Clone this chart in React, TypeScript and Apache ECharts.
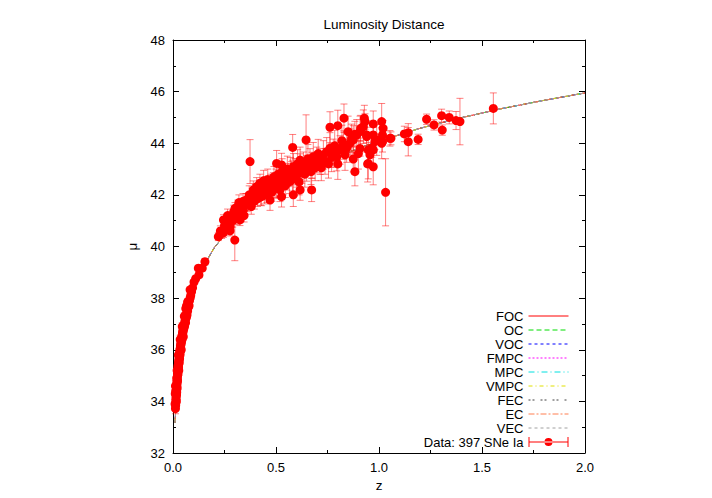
import React, { useEffect, useRef } from "react";
import * as echarts from "echarts";

// Model curve (shared by all nine model fits, which overlap in the picture)
const modelZ = [0.01, 0.02, 0.03, 0.05, 0.07, 0.1, 0.15, 0.2, 0.3, 0.4, 0.5, 0.6, 0.7, 0.8, 0.9, 1.0, 1.2, 1.4, 1.6, 1.8, 2.0];
const modelMu = [33.17, 34.69, 35.59, 36.73, 37.5, 38.31, 39.26, 39.95, 40.94, 41.67, 42.24, 42.72, 43.12, 43.48, 43.8, 44.08, 44.58, 44.99, 45.35, 45.66, 45.95];

const modelNames = ["FOC", "OC", "VOC", "FMPC", "MPC", "VMPC", "FEC", "EC", "VEC"];
const dataName = "Data: 397 SNe Ia";

// Supernovae: [z, mu, error]
const supernovae: [number, number, number][] = [
  [0.012, 33.72, 0.2], [0.013, 33.85, 0.18], [0.014, 34.05, 0.2], [0.014, 33.95, 0.15], [0.015, 34.2, 0.2],
  [0.015, 34.1, 0.17], [0.016, 34.3, 0.2], [0.016, 34.0, 0.16], [0.017, 34.45, 0.18], [0.017, 34.25, 0.2],
  [0.018, 34.55, 0.16], [0.018, 34.35, 0.2], [0.019, 34.6, 0.18], [0.019, 34.75, 0.15], [0.02, 34.7, 0.2],
  [0.02, 34.5, 0.16], [0.021, 34.85, 0.18], [0.021, 34.95, 0.15], [0.022, 35.0, 0.17], [0.022, 34.8, 0.2],
  [0.023, 35.1, 0.16], [0.023, 35.2, 0.18], [0.024, 35.05, 0.15], [0.024, 35.3, 0.17], [0.025, 35.25, 0.18],
  [0.025, 35.4, 0.16], [0.026, 35.35, 0.15], [0.027, 35.5, 0.17], [0.027, 35.3, 0.16], [0.028, 35.6, 0.18],
  [0.028, 35.45, 0.15], [0.029, 35.55, 0.16], [0.03, 35.7, 0.15], [0.03, 35.5, 0.17], [0.031, 35.75, 0.14],
  [0.032, 35.85, 0.16], [0.032, 35.65, 0.15], [0.033, 35.9, 0.14], [0.034, 35.8, 0.16], [0.034, 36.0, 0.15],
  [0.035, 36.05, 0.14], [0.036, 35.95, 0.15], [0.036, 36.15, 0.14], [0.037, 36.1, 0.15], [0.038, 36.25, 0.14],
  [0.039, 36.2, 0.13], [0.04, 36.35, 0.14], [0.041, 36.3, 0.15], [0.042, 36.45, 0.13], [0.043, 36.4, 0.14],
  [0.044, 36.55, 0.13], [0.045, 36.5, 0.14], [0.046, 36.65, 0.13], [0.047, 36.6, 0.12], [0.048, 36.75, 0.13],
  [0.049, 36.7, 0.12], [0.05, 36.85, 0.13], [0.052, 36.8, 0.12], [0.053, 36.95, 0.12], [0.055, 37.0, 0.12],
  [0.056, 36.9, 0.11], [0.058, 37.1, 0.12], [0.06, 37.2, 0.11], [0.061, 37.05, 0.12], [0.063, 37.3, 0.11],
  [0.065, 37.25, 0.12], [0.066, 37.4, 0.11], [0.068, 37.35, 0.11], [0.07, 37.55, 0.12], [0.071, 37.5, 0.11],
  [0.074, 37.65, 0.11], [0.076, 37.75, 0.1], [0.078, 37.7, 0.11], [0.08, 37.9, 0.1], [0.083, 38.0, 0.11],
  [0.086, 38.1, 0.1], [0.09, 38.25, 0.1], [0.095, 38.4, 0.1], [0.102, 38.62, 0.1], [0.11, 38.75, 0.1],
  [0.01, 33.9, 0.25], [0.011, 34.3, 0.22], [0.012, 34.6, 0.2], [0.013, 34.4, 0.22], [0.018, 34.9, 0.2],
  [0.02, 35.2, 0.18], [0.026, 35.8, 0.18], [0.028, 35.2, 0.2], [0.035, 36.4, 0.16], [0.04, 36.0, 0.17],
  [0.045, 36.9, 0.15], [0.05, 36.5, 0.15], [0.055, 37.3, 0.13], [0.062, 37.6, 0.13], [0.066, 37.7, 0.12],
  [0.071, 37.85, 0.12], [0.074, 37.86, 0.12], [0.083, 38.32, 0.12],
  [0.123, 39.16, 0.1], [0.126, 38.9, 0.1], [0.142, 39.16, 0.1], [0.155, 39.41, 0.12],
  [0.22, 40.38, 0.15], [0.23, 40.6, 0.2], [0.236, 40.51, 0.2], [0.245, 40.53, 0.18], [0.245, 41.03, 0.2],
  [0.25, 40.8, 0.22], [0.261, 40.9, 0.2], [0.265, 41.2, 0.25], [0.27, 40.95, 0.22], [0.277, 40.61, 0.2],
  [0.277, 40.77, 0.2], [0.285, 41.16, 0.2], [0.29, 41.0, 0.25], [0.295, 41.35, 0.25], [0.3, 40.25, 0.8],
  [0.301, 41.48, 0.22], [0.305, 41.2, 0.25], [0.31, 41.1, 0.25], [0.315, 41.55, 0.25], [0.317, 41.29, 0.2],
  [0.32, 41.7, 0.3], [0.325, 41.03, 0.22], [0.33, 41.5, 0.2], [0.335, 41.35, 0.25], [0.34, 41.75, 0.3],
  [0.341, 41.42, 0.22], [0.345, 41.2, 0.25], [0.35, 41.61, 0.2], [0.355, 41.8, 0.25], [0.374, 43.29, 0.85],
  [0.36, 41.65, 0.3], [0.37, 42.0, 0.35], [0.38, 41.55, 0.3], [0.385, 41.9, 0.35], [0.39, 42.19, 0.35],
  [0.395, 41.75, 0.3], [0.4, 42.05, 0.35], [0.406, 42.32, 0.35], [0.41, 41.85, 0.3], [0.415, 42.1, 0.35],
  [0.422, 42.45, 0.35], [0.425, 41.95, 0.35], [0.43, 41.93, 0.35], [0.435, 42.25, 0.35], [0.438, 42.19, 0.35],
  [0.44, 42.55, 0.4], [0.445, 42.0, 0.35], [0.45, 42.35, 0.35], [0.455, 42.06, 0.35], [0.46, 42.6, 0.4],
  [0.465, 42.2, 0.35], [0.471, 42.32, 0.35], [0.475, 42.45, 0.35], [0.48, 42.1, 0.35], [0.487, 42.51, 0.35],
  [0.49, 42.7, 0.4], [0.495, 42.25, 0.35], [0.5, 42.55, 0.45], [0.503, 42.32, 0.45], [0.51, 42.8, 0.5],
  [0.515, 42.4, 0.45], [0.519, 42.19, 0.45], [0.525, 42.65, 0.45], [0.53, 42.9, 0.5], [0.535, 42.45, 0.45],
  [0.54, 42.7, 0.45], [0.545, 42.35, 0.45], [0.552, 42.64, 0.45], [0.555, 43.0, 0.5], [0.56, 42.77, 0.45],
  [0.565, 42.5, 0.45], [0.57, 42.95, 0.5], [0.576, 42.84, 0.45], [0.58, 42.6, 0.45], [0.585, 43.1, 0.5],
  [0.592, 42.96, 0.45], [0.6, 42.75, 0.45], [0.605, 43.2, 0.55], [0.608, 42.84, 0.45], [0.612, 42.5, 0.5],
  [0.617, 43.09, 0.5], [0.625, 42.9, 0.45], [0.633, 43.16, 0.5], [0.64, 42.8, 0.5], [0.649, 43.03, 0.5],
  [0.655, 43.4, 0.55], [0.665, 43.29, 0.5], [0.67, 42.9, 0.5], [0.675, 43.15, 0.5], [0.681, 43.48, 0.55],
  [0.69, 43.05, 0.5], [0.698, 43.35, 0.5], [0.705, 43.6, 0.55], [0.714, 43.29, 0.5], [0.72, 43.05, 0.5],
  [0.73, 43.55, 0.55], [0.738, 43.3, 0.5], [0.746, 43.67, 0.55], [0.755, 43.2, 0.55], [0.762, 43.81, 0.6],
  [0.77, 43.45, 0.55], [0.778, 43.61, 0.55], [0.785, 43.9, 0.6], [0.795, 43.48, 0.55], [0.8, 43.2, 0.6],
  [0.811, 43.74, 0.55], [0.82, 44.1, 0.6], [0.827, 43.93, 0.55], [0.835, 43.55, 0.6], [0.843, 43.81, 0.55],
  [0.85, 44.45, 0.6], [0.859, 44.0, 0.55], [0.867, 44.19, 0.55], [0.875, 44.13, 0.55], [0.892, 44.32, 0.6],
  [0.9, 43.6, 0.6], [0.908, 44.45, 0.6], [0.924, 44.64, 0.65], [0.94, 44.26, 0.6], [0.948, 43.74, 0.65],
  [0.972, 43.74, 0.6], [0.989, 44.13, 0.6], [1.013, 44.0, 0.6], [1.053, 44.19, 0.3],
  [0.503, 43.22, 0.5], [0.527, 43.16, 0.45], [0.581, 43.84, 0.5], [0.646, 44.13, 0.97], [0.617, 43.35, 0.5],
  [0.762, 44.62, 0.6], [0.8, 44.68, 0.6], [0.83, 44.97, 0.55], [0.929, 44.97, 0.5], [1.013, 44.84, 0.7],
  [0.972, 44.75, 0.5], [0.911, 44.58, 0.5], [0.883, 44.35, 0.5],
  [0.584, 42.0, 0.45], [0.617, 42.19, 0.4], [0.673, 42.19, 0.45], [0.527, 41.93, 0.4], [0.471, 41.8, 0.4],
  [0.883, 42.9, 0.55], [0.945, 43.2, 0.7], [0.972, 43.09, 0.7], [0.875, 43.39, 0.5], [1.032, 42.1, 1.3],
  [0.948, 43.22, 0.6],
  [1.058, 44.19, 0.25], [1.123, 44.36, 0.3], [1.142, 44.41, 0.35], [1.142, 44.06, 0.55], [1.19, 44.15, 0.2],
  [1.231, 44.93, 0.2], [1.267, 44.71, 0.2], [1.304, 45.07, 0.25], [1.307, 44.51, 0.2], [1.341, 45.0, 0.25],
  [1.374, 44.88, 0.35], [1.393, 44.84, 0.9], [1.555, 45.35, 0.6], [1.02, 44.58, 0.3], [1.017, 44.32, 0.3],
  [1.017, 44.06, 0.4], [0.972, 44.32, 0.3], [0.932, 44.84, 0.3], [0.94, 44.32, 0.3], [0.98, 44.06, 0.3],
  [0.965, 43.81, 0.35], [0.956, 43.55, 0.4], [0.908, 43.8, 0.3],
];

const FONT = "'Liberation Sans', Arial, Helvetica, sans-serif";

const modelStyles: { color: string; type: any }[] = [
  { color: "#ff0000", type: "solid" },
  { color: "#00dd00", type: [5, 3] },
  { color: "#0000ff", type: [3, 3] },
  { color: "#ff00ff", type: [2, 2] },
  { color: "#00e0e0", type: [6, 3, 1, 3] },
  { color: "#e0e000", type: [4, 3, 1, 3] },
  { color: "#404040", type: [2, 2, 2, 6] },
  { color: "#ff7f50", type: [6, 2, 2, 2] },
  { color: "#a0a0a0", type: [3, 3] },
];

const dataIcon =
  "path://M0,0h1v10h-1z M39,0h1v10h-1z M0,4.5h40v1h-40z M16,5a4,4 0 1 0 8,0a4,4 0 1 0 -8,0z";

export default function App() {
  const ref = useRef<HTMLDivElement>(null);
  useEffect(() => {
    if (!ref.current) return;
    const chart = echarts.init(ref.current, undefined, { renderer: "svg" });
    const axisCommon = {
      axisLine: { show: true, onZero: false, lineStyle: { color: "#000", width: 1 } },
      axisTick: { show: true, inside: true, length: 6, lineStyle: { color: "#000" } },
      minorTick: { show: true, splitNumber: 2, length: 3, lineStyle: { color: "#000" } },
      splitLine: { show: false },
    };
    const modelSeries = modelNames.map((name, i) => ({
      name,
      type: "line",
      data: modelZ.map((z, k) => [z, modelMu[k]]),
      symbol: "none",
      lineStyle: { color: modelStyles[i].color, width: 1, type: modelStyles[i].type },
      itemStyle: { color: modelStyles[i].color },
      z: 2,
    }));
    chart.setOption({
      animation: false,
      backgroundColor: "#fff",
      title: {
        text: "Luminosity Distance",
        left: 379,
        top: 12,
        textAlign: "center",
        textStyle: { fontFamily: FONT, fontSize: 13.5, fontWeight: "normal", color: "#000" },
      },
      grid: { left: 173, right: 127, top: 40, bottom: 45, containLabel: false },
      legend: {
        orient: "vertical",
        right: 143,
        top: 309,
        align: "right",
        itemWidth: 40,
        itemHeight: 10,
        itemGap: 0,
        padding: 0,
        selectedMode: false,
        itemStyle: { opacity: 0 },
        lineStyle: { width: 1 },
        textStyle: { fontFamily: FONT, fontSize: 13, color: "#000", lineHeight: 14 },
        data: [
          ...modelNames,
          { name: dataName, icon: dataIcon, itemStyle: { opacity: 1, color: "#ff0000", borderWidth: 0 } },
        ],
      },
      xAxis: [
        {
          type: "value",
          min: 0,
          max: 2,
          interval: 0.5,
          position: "bottom",
          ...axisCommon,
          axisLabel: {
            color: "#000",
            fontFamily: FONT,
            fontSize: 13,
            margin: 8,
            formatter: (v: number) => v.toFixed(1),
          },
          name: "z",
          nameLocation: "middle",
          nameGap: 25,
          nameTextStyle: { fontFamily: FONT, fontSize: 13.5, color: "#000" },
        },
        {
          type: "value",
          min: 0,
          max: 2,
          interval: 0.5,
          position: "top",
          ...axisCommon,
          axisLabel: { show: false },
        },
      ],
      yAxis: [
        {
          type: "value",
          min: 32,
          max: 48,
          interval: 2,
          position: "left",
          ...axisCommon,
          axisLabel: { color: "#000", fontFamily: FONT, fontSize: 13, margin: 8 },
          name: "μ",
          nameLocation: "middle",
          nameGap: 33,
          nameTextStyle: { fontFamily: FONT, fontSize: 13.5, color: "#000" },
        },
        {
          type: "value",
          min: 32,
          max: 48,
          interval: 2,
          position: "right",
          ...axisCommon,
          axisLabel: { show: false },
        },
      ],
      series: [
        ...modelSeries,
        {
          name: "errorbars",
          type: "custom",
          z: 3,
          data: supernovae,
          encode: { x: 0, y: 1 },
          renderItem: (_params: any, api: any) => {
            const x = api.value(0);
            const y = api.value(1);
            const e = api.value(2);
            const top = api.coord([x, y + e]);
            const bot = api.coord([x, y - e]);
            const cap = 3.5;
            const style = { stroke: "rgba(255,0,0,0.5)", lineWidth: 1 };
            return {
              type: "group",
              children: [
                { type: "line", shape: { x1: top[0], y1: top[1], x2: bot[0], y2: bot[1] }, style },
                { type: "line", shape: { x1: top[0] - cap, y1: top[1], x2: top[0] + cap, y2: top[1] }, style },
                { type: "line", shape: { x1: bot[0] - cap, y1: bot[1], x2: bot[0] + cap, y2: bot[1] }, style },
              ],
            };
          },
        },
        {
          name: dataName,
          type: "scatter",
          z: 4,
          symbol: "circle",
          symbolSize: 9,
          itemStyle: { color: "#ff0000", opacity: 1 },
          data: supernovae.map((d) => [d[0], d[1]]),
        },
      ],
    });
    return () => chart.dispose();
  }, []);
  return (
    <div
      ref={ref}
      style={{ position: "fixed", left: 0, top: 0, width: 712, height: 498, background: "#fff" }}
    />
  );
}
